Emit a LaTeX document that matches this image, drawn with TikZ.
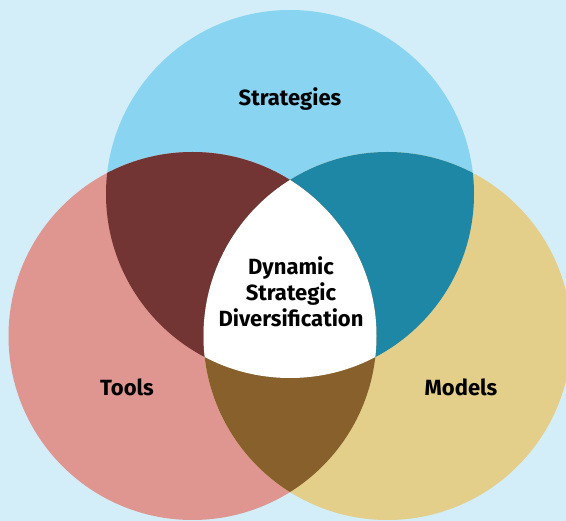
\documentclass[tikz,border=0pt]{standalone}
\usepackage{fontspec}
\setmainfont{Fira Sans}
\definecolor{vennback}{RGB}{211, 237, 249}
\definecolor{vennsky}{RGB}{136, 212, 241}
\definecolor{vennrose}{RGB}{224, 150, 144}
\definecolor{vennsand}{RGB}{227, 206, 138}
\definecolor{vennwine}{RGB}{115, 53, 51}
\definecolor{vennteal}{RGB}{30, 135, 165}
\definecolor{vennbrown}{RGB}{135, 96, 43}
\tikzset{
  label/.style={font=\bfseries\fontsize{22}{26}\selectfont, text=black, align=center}
}
\begin{document}
\begin{tikzpicture}[x=1pt, y=-1pt]
			\useasboundingbox (0, 0) rectangle (566, 521);
			\clip (0, 0) rectangle (566, 521);
			\fill [vennback] (0, 0) rectangle (566, 521);
			\coordinate (strat) at (290, 194);
			\coordinate (tools) at (192.5, 336);
			\coordinate (models) at (387.5, 336);
			\fill [vennsky] (strat) circle (184pt);
			\fill [vennrose] (tools) circle (184pt);
			\fill [vennsand] (models) circle (184pt);
			\begin{scope}
				\clip (strat) circle (184pt);
				\fill [vennwine] (tools) circle (184pt);
				\fill [vennteal] (models) circle (184pt);
			\end{scope}
			\begin{scope}
				\clip (tools) circle (184pt);
				\fill [vennbrown] (models) circle (184pt);
				\clip (models) circle (184pt);
				\fill [white] (strat) circle (184pt);
			\end{scope}
			\node [label] (stratlabel) at (290, 99) {Strategies};
			\node [label] (toolslabel) at (127, 387) {Tools};
			\node [label] (modelslabel) at (461, 387) {Models};
			\node [label] (centerlabel) at (291, 292) {Dynamic\\Strategic\\Diversification};
		\end{tikzpicture}
\end{document}
